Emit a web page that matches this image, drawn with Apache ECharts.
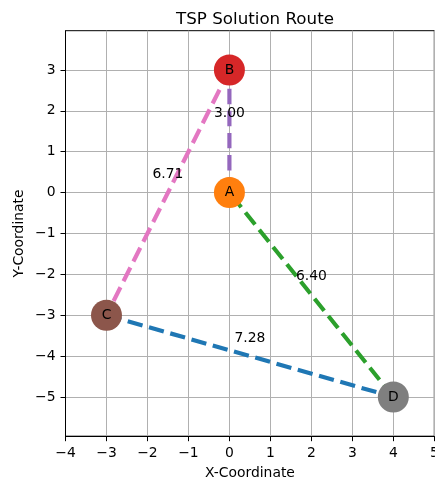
<!DOCTYPE html>
<html>
<head>
<meta charset="utf-8">
<script src="https://cdn.jsdelivr.net/npm/echarts@6/dist/echarts.min.js"></script>
<style>
  html, body { margin: 0; padding: 0; background: #fff; }
  #chart { width: 435px; height: 482px; }
</style>
</head>
<body>
<div id="chart"></div>
<script>
// Cities on the route
const cityNames = ['A', 'B', 'C', 'D'];
const cityX = [0, 0, -3, 4];
const cityY = [0, 3, -3, -5];
const cityColors = ['#ff7f0e', '#d62728', '#8c564b', '#7f7f7f'];

// Route legs (index pairs into the city arrays) and their lengths
const legFrom = [0, 1, 2, 3];
const legTo = [1, 2, 3, 0];
const legDistances = [3.00, 6.71, 7.28, 6.40];
const legColors = ['#9467bd', '#e377c2', '#1f77b4', '#2ca02c'];

// Tick labels
const xTicks = [-4, -3, -2, -1, 0, 1, 2, 3, 4, 5];
const yTicks = [-5, -4, -3, -2, -1, 0, 1, 2, 3];

const FONT = 'DejaVu Sans';
const fmtNum = v => (v < 0 ? '\u2212' + (-v) : String(v));

const series = [];

// Dashed route legs
legFrom.forEach((f, i) => {
  const t = legTo[i];
  series.push({
    type: 'line',
    data: [[cityX[f], cityY[f]], [cityX[t], cityY[t]]],
    showSymbol: false,
    symbol: 'none',
    silent: true,
    z: 2,
    lineStyle: { color: legColors[i], width: 4.17, type: [15.4, 6.7], cap: 'butt' }
  });
});

// City markers with their names
series.push({
  type: 'scatter',
  z: 3,
  symbolSize: 31,
  silent: true,
  data: cityNames.map((n, i) => ({
    name: n,
    value: [cityX[i], cityY[i]],
    itemStyle: { color: cityColors[i], opacity: 1 }
  })),
  label: {
    show: true,
    position: 'inside',
    formatter: p => p.name,
    color: '#000',
    fontFamily: FONT,
    fontSize: 13.9
  }
});

// Leg length labels above each leg's midpoint
series.push({
  type: 'scatter',
  z: 4,
  symbolSize: 0,
  silent: true,
  itemStyle: { opacity: 1 },
  data: legFrom.map((f, i) => {
    const t = legTo[i];
    return [(cityX[f] + cityX[t]) / 2, (cityY[f] + cityY[t]) / 2];
  }),
  label: {
    show: true,
    position: 'inside',
    offset: [0, -18],
    formatter: p => legDistances[p.dataIndex].toFixed(2),
    color: '#000',
    opacity: 1,
    textBorderWidth: 0,
    fontFamily: FONT,
    fontSize: 13.9
  }
});

const axisCommon = {
  type: 'value',
  axisLine: { show: true, onZero: false, lineStyle: { color: '#000', width: 1 } },
  axisTick: { show: true, inside: false, length: 5, lineStyle: { color: '#000', width: 1 } },
  splitLine: { show: true, lineStyle: { color: '#b0b0b0', width: 1 } },
  nameLocation: 'middle',
  nameMoveOverlap: false,
  nameTextStyle: { color: '#000', fontFamily: FONT, fontSize: 13.9 }
};

const chart = echarts.init(document.getElementById('chart'), null, { renderer: 'canvas' });
chart.setOption({
  animation: false,
  backgroundColor: '#fff',
  title: {
    text: 'TSP Solution Route',
    left: 250,
    textAlign: 'center',
    top: 6,
    textStyle: { color: '#000', fontFamily: FONT, fontSize: 16.7, fontWeight: 'normal' }
  },
  grid: {
    left: 65.5,
    top: 30.7,
    width: 368.8,
    height: 405.5,
    outerBoundsMode: 'none',
    containLabel: false,
    show: true,
    borderColor: '#000',
    borderWidth: 1,
    backgroundColor: 'transparent'
  },
  xAxis: Object.assign({}, axisCommon, {
    min: xTicks[0],
    max: xTicks[xTicks.length - 1],
    interval: 1,
    name: 'X-Coordinate',
    nameGap: 30,
    axisTick: Object.assign({}, axisCommon.axisTick, { customValues: xTicks }),
    axisLabel: {
      customValues: xTicks,
      color: '#000', fontFamily: FONT, fontSize: 13.9, margin: 10,
      formatter: fmtNum, showMinLabel: true, showMaxLabel: true
    }
  }),
  yAxis: Object.assign({}, axisCommon, {
    min: -5.96,
    max: 3.96,
    name: 'Y-Coordinate',
    nameGap: 39,
    axisTick: Object.assign({}, axisCommon.axisTick, { customValues: yTicks }),
    axisLabel: {
      customValues: yTicks,
      color: '#000', fontFamily: FONT, fontSize: 13.9, margin: 10,
      formatter: fmtNum
    }
  }),
  series: series
});
</script>
</body>
</html>
